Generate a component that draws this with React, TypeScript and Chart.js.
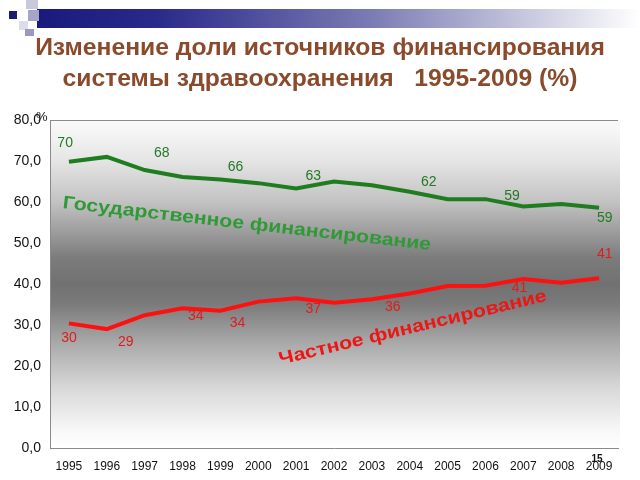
import React, { useEffect, useRef } from "react";
import { Chart, registerables } from "chart.js";

Chart.register(...registerables);

const years = ["1995","1996","1997","1998","1999","2000","2001","2002","2003","2004","2005","2006","2007","2008","2009"];
const govShare = [69.8, 71.0, 67.8, 66.1, 65.5, 64.6, 63.3, 65.0, 64.1, 62.5, 60.7, 60.7, 58.9, 59.5, 58.6];
const privShare = [30.4, 29.0, 32.4, 34.1, 33.5, 35.7, 36.5, 35.4, 36.3, 37.7, 39.5, 39.6, 41.2, 40.3, 41.4];

const govLabelText = ["70", "68", "66", "63", "62", "59", "59"];
const privLabelText = ["30", "29", "34", "34", "37", "36", "41", "41"];

// label anchors in data space: [category index, value]
const govLabelAnchor = [[-0.1, 74.4], [2.45, 72.0], [4.4, 68.5], [6.45, 66.3], [9.5, 64.9], [11.7, 61.5], [14.15, 56.1]];
const privLabelAnchor = [[0, 26.8], [1.5, 25.9], [3.35, 32.2], [4.45, 30.5], [6.45, 33.9], [8.55, 34.4], [11.9, 39.0], [14.15, 47.3]];

const govCaption = "Государственное финансирование";
const privCaption = "Частное финансирование";
const titleLine1 = "Изменение доли источников финансирования";
const titleLine2 = "системы здравоохранения   1995-2009 (%)";

const FONT = '"Liberation Sans", Arial, sans-serif';

const decorPlugin = {
  id: "decor",
  beforeDraw(chart: any) {
    const { ctx, chartArea: a } = chart;
    ctx.save();
    const g = ctx.createLinearGradient(0, a.top, 0, a.bottom);
    g.addColorStop(0, "#fbfbfb");
    g.addColorStop(0.12, "#e6e6e6");
    g.addColorStop(0.25, "#c2c2c2");
    g.addColorStop(0.42, "#7c7c7c");
    g.addColorStop(0.5, "#717171");
    g.addColorStop(0.56, "#7a7a7a");
    g.addColorStop(0.68, "#a9a9a9");
    g.addColorStop(0.82, "#d9d9d9");
    g.addColorStop(0.95, "#f8f8f8");
    g.addColorStop(1, "#ffffff");
    ctx.fillStyle = g;
    ctx.fillRect(a.left, a.top, a.right - a.left + 2, a.bottom - a.top);
    ctx.strokeStyle = "#8a8a8a";
    ctx.lineWidth = 1;
    ctx.beginPath();
    ctx.moveTo(a.left, a.top + 0.5);
    ctx.lineTo(a.right, a.top + 0.5);
    ctx.stroke();
    ctx.restore();
  },
  afterDatasetsDraw(chart: any) {
    const { ctx, chartArea: a } = chart;
    const xs = chart.scales.x;
    const ys = chart.scales.y;
    ctx.save();
    ctx.textAlign = "center";
    ctx.textBaseline = "middle";
    ctx.font = `14px ${FONT}`;
    ctx.fillStyle = "#237a23";
    govLabelText.forEach((t, i) => {
      const [xi, v] = govLabelAnchor[i];
      ctx.fillText(t, xs.getPixelForValue(xi), ys.getPixelForValue(v));
    });
    ctx.fillStyle = "#e01c1c";
    privLabelText.forEach((t, i) => {
      const [xi, v] = privLabelAnchor[i];
      ctx.fillText(t, xs.getPixelForValue(xi), ys.getPixelForValue(v));
    });

    // rotated captions (slightly stretched horizontally, like the original)
    ctx.font = `bold 18px ${FONT}`;
    ctx.save();
    ctx.translate(xs.getPixelForValue(4.7), ys.getPixelForValue(54.6));
    ctx.rotate((6.5 * Math.PI) / 180);
    ctx.scale(1.18, 1);
    ctx.fillStyle = "#2f9a36";
    ctx.fillText(govCaption, 0, 0);
    ctx.restore();
    ctx.save();
    ctx.translate(xs.getPixelForValue(9.08), ys.getPixelForValue(29.3));
    ctx.rotate((-13.5 * Math.PI) / 180);
    ctx.scale(1.18, 1);
    ctx.fillStyle = "#ee1515";
    ctx.fillText(privCaption, 0, 0);
    ctx.restore();

    // "%" marker near axis top
    ctx.font = `13px ${FONT}`;
    ctx.fillStyle = "#222";
    ctx.textAlign = "left";
    ctx.fillText("%", a.left - 14, a.top - 3);
    // slide number
    ctx.font = `bold 10px ${FONT}`;
    ctx.fillStyle = "#111";
    ctx.textAlign = "center";
    ctx.fillText("15", 597, 459);
    ctx.restore();
  },
};

export default function App() {
  const ref = useRef<HTMLCanvasElement | null>(null);
  useEffect(() => {
    if (!ref.current) return;
    const chart = new Chart(ref.current, {
      type: "line",
      data: {
        labels: years,
        datasets: [
          { data: govShare, borderColor: "#1f7d1f", borderWidth: 4, pointRadius: 0, tension: 0, fill: false },
          { data: privShare, borderColor: "#ff1010", borderWidth: 4, pointRadius: 0, tension: 0, fill: false },
        ],
      },
      options: {
        responsive: false,
        animation: false,
        layout: { padding: { left: 6, top: 120, right: 22, bottom: 0 } },
        plugins: { legend: { display: false }, tooltip: { enabled: false }, title: { display: false } },
        scales: {
          x: {
            offset: true,
            grid: { display: false, drawTicks: false },
            border: { display: true, color: "#8a8a8a", width: 1 },
            ticks: { color: "#111", font: { family: FONT, size: 12 }, padding: 11, maxRotation: 0, autoSkip: false },
            afterFit: (s: any) => { s.height = 32; },
          },
          y: {
            min: 0,
            max: 80,
            grid: { display: false, drawTicks: false },
            border: { display: true, color: "#8a8a8a", width: 1 },
            ticks: {
              stepSize: 10,
              color: "#111",
              font: { family: FONT, size: 14 },
              padding: 9,
              callback: (v: any) => Number(v).toFixed(1).replace(".", ","),
            },
            afterFit: (s: any) => { s.width = 44; },
          },
        },
      },
      plugins: [decorPlugin],
    });
    return () => chart.destroy();
  }, []);

  const sq = (l: number, t: number, w: number, h: number, c: string) => (
    <div style={{ position: "absolute", left: l, top: t, width: w, height: h, background: c }} />
  );

  return (
    <div style={{ position: "absolute", left: 0, top: 0, width: 640, height: 480, background: "#fff", overflow: "hidden" }}>
      <canvas ref={ref} width={640} height={480} style={{ position: "absolute", left: 0, top: 0, display: "block" }} />
      <div style={{ position: "absolute", left: 37, top: 9, width: 603, height: 19, background: "linear-gradient(to right, #1a1a7e 0%, #2a2a8a 20%, #7a7ab4 55%, #c4c4dc 80%, #ffffff 100%)" }} />
      {sq(26, 0, 12, 9, "#c9c9dd")}
      {sq(28, 10, 11, 11, "#a5a5c8")}
      {sq(9, 11, 8, 8, "#1c1c6e")}
      {sq(19, 21, 9, 9, "#dcdcea")}
      {sq(25, 29, 9, 7, "#9a9ac0")}
      <div style={{ position: "absolute", left: 0, top: 31, width: 640, textAlign: "center", fontFamily: FONT, fontWeight: "bold", fontSize: 24.7, color: "#8a4a2c", lineHeight: "31px", whiteSpace: "pre" }}>
        {titleLine1}
        {"\n"}
        {titleLine2}
      </div>
    </div>
  );
}
